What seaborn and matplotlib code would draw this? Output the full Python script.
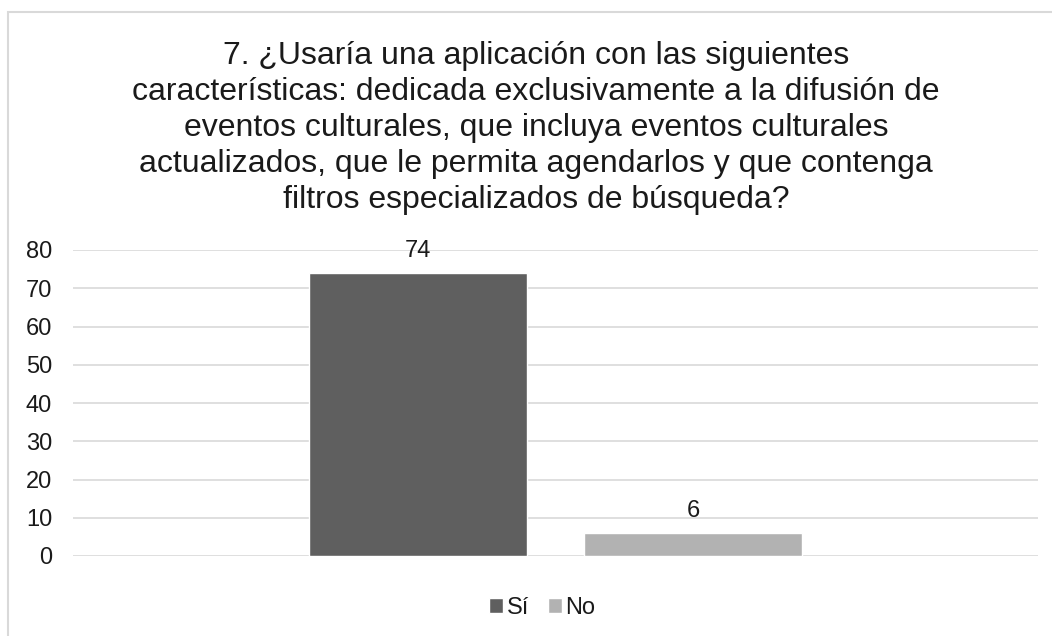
import matplotlib
matplotlib.use("Agg")
import matplotlib.pyplot as plt
from matplotlib.patches import Rectangle
import seaborn as sns
import pandas as pd

# Survey answers for question 7
question = "7. ¿Usaría una aplicación con las siguientes\ncaracterísticas: dedicada exclusivamente a la difusión de\neventos culturales, que incluya eventos culturales\nactualizados, que le permita agendarlos y que contenga\nfiltros especializados de búsqueda?"
answers = ["Sí", "No"]
counts = [74, 6]
colors = ["#5f5f5f", "#b2b2b2"]
y_ticks = [0, 10, 20, 30, 40, 50, 60, 70, 80]

df = pd.DataFrame({"grupo": ["P7"] * len(answers), "respuesta": answers, "total": counts})

sns.set_theme(style="white")
plt.rcParams["font.family"] = ["Liberation Sans", "DejaVu Sans"]
text_color = "#1a1a1a"
label_size = 17

fig = plt.figure(figsize=(10.52, 6.36), dpi=100)
ax = fig.add_axes([73 / 1052, 1 - 556 / 636, (1038 - 73) / 1052, (556 - 250) / 636])

sns.barplot(data=df, x="grupo", y="total", hue="respuesta", hue_order=answers,
            palette=colors, width=0.57, gap=0.21, saturation=1, ax=ax,
            legend=True)

for container in ax.containers:
    ax.bar_label(container, padding=8, fontsize=label_size, color=text_color)

ax.set_xlim(-0.5, 0.5)
ax.set_ylim(0, 80)
ax.set_yticks(y_ticks)
ax.yaxis.grid(True, color="#d9d9d9", linewidth=1.2)
ax.set_axisbelow(True)
ax.set_xticks([])
ax.set_xlabel("")
ax.set_ylabel("")
ax.tick_params(axis="y", length=0, pad=15, labelsize=label_size, labelcolor=text_color)
for side in ["top", "right", "left", "bottom"]:
    ax.spines[side].set_visible(False)

handles, labels = ax.get_legend_handles_labels()
ax.legend_.remove()
fig.legend(handles, labels, loc="center", bbox_to_anchor=(542 / 1052, 1 - 608 / 636),
           ncol=2, frameon=False, fontsize=label_size, handlelength=0.6, handleheight=0.6,
           handletextpad=0.15, columnspacing=0.8, labelcolor=text_color)

fig.text(536 / 1052, 1 - 128 / 636, question, ha="center", va="center",
         multialignment="center", fontsize=23, linespacing=1.27, color=text_color)

# light outline of the chart area
fig.add_artist(Rectangle((8 / 1052, -0.1), 1.2, 1 - 12 / 636 + 0.1,
                         transform=fig.transFigure, fill=False,
                         edgecolor="#d9d9d9", linewidth=1.5, clip_on=False))

fig.savefig("out.png", dpi=100, facecolor="white")
